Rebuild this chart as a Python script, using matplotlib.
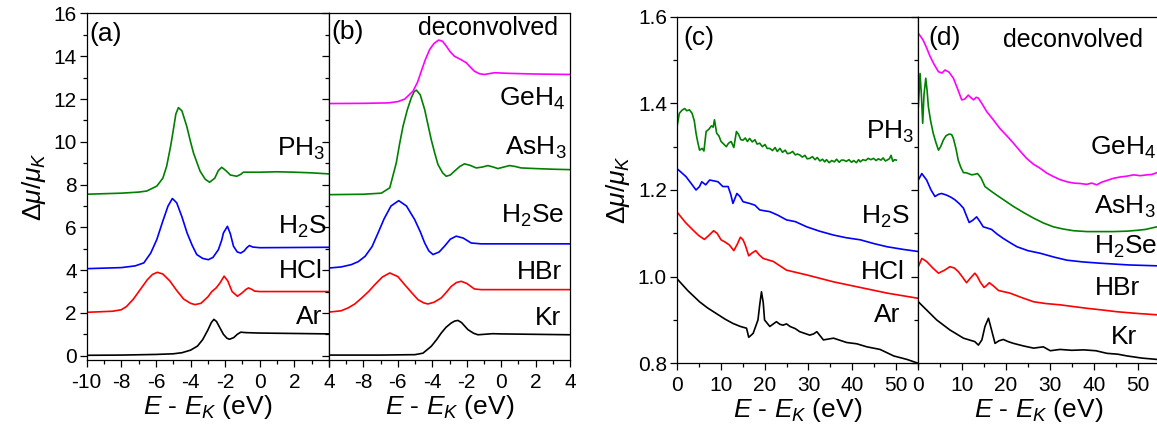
import matplotlib
matplotlib.use("Agg")
import matplotlib.pyplot as plt
from matplotlib.ticker import MultipleLocator, FormatStrFormatter, FuncFormatter

plt.rcParams["font.family"] = ["Liberation Sans", "DejaVu Sans"]
plt.rcParams["mathtext.fontset"] = "custom"
plt.rcParams["mathtext.rm"] = "Liberation Sans"
plt.rcParams["mathtext.it"] = "Liberation Sans:italic"
plt.rcParams["mathtext.bf"] = "Liberation Sans:bold"
plt.rcParams["axes.unicode_minus"] = False

# ---------------- panel (a): pre-edge region, measured ----------------
ar_a_x = [-10, -8, -6, -5, -4.5, -4, -3.6, -3.3, -3.0, -2.8, -2.65, -2.5, -2.3, -2.1,
          -1.9, -1.75, -1.5, -1.3, -1.1, -0.8, 0, 2, 4]
ar_a_y = [0.02, 0.03, 0.06, 0.09, 0.14, 0.26, 0.45, 0.75, 1.2, 1.55, 1.7, 1.6, 1.3, 1.0,
          0.82, 0.77, 0.85, 1.0, 1.1, 1.08, 1.06, 1.04, 1.02]

hcl_a_x = [-10, -8.5, -8, -7.7, -7.3, -6.9, -6.5, -6.2, -5.92, -5.6, -5.2, -4.8, -4.4, -4.0,
           -3.74, -3.4, -3.0, -2.77, -2.52, -2.3, -2.06, -1.85, -1.6, -1.29, -1.0, -0.8,
           -0.65, -0.45, -0.3, 0, 2, 4]
hcl_a_y = [2.03, 2.08, 2.15, 2.3, 2.65, 3.1, 3.55, 3.8, 3.9, 3.82, 3.5, 3.05, 2.65, 2.45,
           2.39, 2.45, 2.75, 3.0, 3.17, 3.4, 3.72, 3.5, 3.0, 2.78, 2.95, 3.1,
           3.17, 3.1, 3.02, 3.0, 3.0, 3.0]

h2s_a_x = [-10, -8, -7.2, -6.7, -6.3, -5.95, -5.6, -5.3, -5.05, -4.8, -4.5, -4.2, -3.9,
           -3.64, -3.3, -2.97, -2.7, -2.39, -2.2, -2.1, -1.87, -1.7, -1.52, -1.3, -1.1,
           -0.9, -0.75, -0.6, -0.4, 0, 2, 4]
h2s_a_y = [4.07, 4.12, 4.2, 4.34, 4.8, 5.43, 6.3, 7.0, 7.35, 7.15, 6.5, 5.74, 5.15,
           4.73, 4.55, 4.49, 4.6, 4.96, 5.4, 5.74, 6.05, 5.7, 5.12, 4.85, 4.8,
           4.9, 5.05, 5.15, 5.08, 5.05, 5.06, 5.07]

ph3_a_x = [-10, -8, -7, -6.53, -5.95, -5.6, -5.38, -5.15, -4.99, -4.85, -4.7, -4.5, -4.22,
           -4.0, -3.83, -3.45, -3.15, -2.9, -2.6, -2.4, -2.2, -1.95, -1.7, -1.33, -1.1,
           -0.95, 0, 1, 2, 3, 4]
ph3_a_y = [7.55, 7.6, 7.65, 7.7, 7.93, 8.3, 8.86, 9.8, 10.58, 11.3, 11.6, 11.45, 10.73,
           10.0, 9.48, 8.63, 8.25, 8.11, 8.3, 8.65, 8.81, 8.65, 8.45, 8.39, 8.48,
           8.58, 8.58, 8.6, 8.58, 8.55, 8.5]

# ---------------- panel (b): pre-edge region, deconvolved ----------------
kr_b_x = [-10, -7, -5, -4.54, -4.06, -3.75, -3.48, -3.2, -2.9, -2.7, -2.51, -2.3, -1.93,
          -1.6, -1.35, -1.0, -0.5, 0, 2, 4]
kr_b_y = [0.03, 0.03, 0.05, 0.12, 0.44, 0.75, 1.06, 1.33, 1.53, 1.62, 1.65, 1.55, 1.22,
          1.05, 0.98, 1.0, 1.03, 1.02, 1.0, 0.98]

hbr_b_x = [-10, -9.3, -8.9, -8.5, -8.1, -7.7, -7.34, -6.9, -6.47, -6.0, -5.6, -5.2, -4.83,
           -4.5, -4.25, -3.9, -3.48, -3.2, -2.9, -2.6, -2.32, -2.0, -1.55, -1.16, 0, 2, 4]
hbr_b_y = [2.04, 2.1, 2.23, 2.42, 2.7, 3.0, 3.32, 3.68, 3.87, 3.7, 3.32, 2.95, 2.62,
           2.47, 2.42, 2.5, 2.7, 2.95, 3.24, 3.42, 3.48, 3.38, 3.12, 3.09, 3.09, 3.09, 3.09]

h2se_b_x = [-10, -9.3, -8.7, -8.3, -7.9, -7.5, -7.15, -6.8, -6.4, -5.95, -5.5, -5.02,
            -4.7, -4.44, -4.2, -3.96, -3.6, -3.29, -2.95, -2.61, -2.2, -1.74, -1.16, 0, 2, 4]
h2se_b_y = [4.1, 4.15, 4.26, 4.4, 4.65, 5.1, 5.74, 6.4, 7.0, 7.25, 7.0, 6.36,
            5.8, 5.27, 4.9, 4.73, 4.85, 5.12, 5.45, 5.59, 5.5, 5.27, 5.23, 5.23, 5.23, 5.23]

ash3_b_x = [-10, -8, -6.96, -6.47, -6.09, -5.9, -5.7, -5.45, -5.22, -5.05, -4.93, -4.7,
            -4.44, -4.25, -4.06, -3.85, -3.67, -3.4, -3.19, -2.95, -2.71, -2.4, -2.13,
            -1.8, -1.45, -1.1, -0.77, -0.45, -0.19, 0.15, 0.48, 0.8, 1.16, 2, 3, 4]
ash3_b_y = [7.53, 7.55, 7.6, 7.85, 9.02, 9.9, 10.73, 11.5, 12.06, 12.35, 12.42, 12.2,
            11.5, 10.8, 10.1, 9.45, 8.94, 8.55, 8.39, 8.45, 8.63, 8.85, 8.97,
            8.9, 8.78, 8.82, 8.89, 8.82, 8.75, 8.82, 8.89, 8.85, 8.78, 8.75, 8.72, 8.7]

geh4_b_x = [-10, -8, -6.57, -6.0, -5.6, -5.12, -4.85, -4.64, -4.4, -4.15, -3.9, -3.63,
            -3.4, -3.19, -2.95, -2.71, -2.35, -2.03, -1.8, -1.55, -1.25, -0.97, -0.39,
            0.5, 2, 4]
geh4_b_y = [11.79, 11.8, 11.82, 11.88, 12.0, 12.37, 12.8, 13.3, 13.85, 14.32, 14.6, 14.76,
            14.7, 14.48, 14.2, 14.0, 13.85, 13.7, 13.5, 13.3, 13.18, 13.15, 13.23,
            13.2, 13.17, 13.15]

# ---------------- panel (c): extended region, measured ----------------
ar_c_x = [0, 2.5, 5.2, 7, 9, 11, 12.8, 14.5, 15.9, 16.4, 17.4, 18.5, 18.9, 19.3, 19.7,
          20, 21.2, 22.7, 23.5, 24.2, 25, 25.8, 27, 28, 30.3, 31.2, 31.9, 33.4, 35.7,
          38.7, 41, 43.3, 46.3, 49.4, 52.4, 55]
ar_c_y = [0.996, 0.968, 0.942, 0.928, 0.915, 0.902, 0.892, 0.885, 0.881, 0.86, 0.869, 0.9,
          0.935, 0.965, 0.94, 0.9, 0.885, 0.896, 0.89, 0.888, 0.891, 0.885, 0.88, 0.873,
          0.865, 0.868, 0.873, 0.854, 0.858, 0.848, 0.845, 0.838, 0.832, 0.817, 0.809, 0.8]

hcl_c_x = [0, 2, 3.66, 5, 6.3, 7.3, 8.4, 9.2, 10.1, 11, 12, 13, 13.8, 14.5, 15.1, 15.6,
           16.4, 17.2, 18, 18.8, 19.7, 22, 25, 29.6, 35.7, 41.8, 47.9, 55]
hcl_c_y = [1.15, 1.125, 1.108, 1.095, 1.086, 1.095, 1.106, 1.1, 1.085, 1.08, 1.073, 1.06,
           1.075, 1.091, 1.085, 1.073, 1.048, 1.055, 1.06, 1.05, 1.042, 1.035, 1.015,
           1.004, 0.988, 0.975, 0.962, 0.95]

h2s_c_x = [0, 2.1, 3.3, 4.4, 5.2, 5.7, 6.6, 7.5, 8.5, 9.4, 10.5, 11.7, 12.3, 12.8, 13.7,
           14.4, 15.1, 16.6, 17.8, 18.9, 20, 21.2, 23, 25, 27, 29.6, 32.5, 35.7, 38.5,
           41.8, 45, 47.9, 51.5, 55]
h2s_c_y = [1.25, 1.231, 1.215, 1.2, 1.208, 1.219, 1.212, 1.223, 1.221, 1.219, 1.208,
           1.208, 1.19, 1.169, 1.192, 1.185, 1.173, 1.169, 1.165, 1.154, 1.152, 1.15,
           1.142, 1.131, 1.127, 1.115, 1.105, 1.096, 1.09, 1.085, 1.076, 1.069, 1.063,
           1.058]

ph3_c_x = [0, 0.6, 1.2, 1.8, 2.3, 2.9, 3.5, 4.0, 4.4, 4.8, 5.2, 5.8, 6.2, 6.7, 7.3, 7.9,
           8.3, 8.6, 9.1, 9.6, 10.1, 10.7, 11.3, 11.8, 12.4, 13.0, 13.6, 14.1, 14.6,
           15.1, 15.6, 16.1, 16.6, 17.2, 17.8, 18.3, 18.9, 19.5, 20.1, 20.6, 21.2, 21.8,
           22.4, 22.9, 23.5, 24.1, 24.7, 25.2, 25.8, 26.4, 27.0, 27.5, 28.0, 28.6, 29.2,
           29.7, 30.3, 30.9, 31.5, 32.0, 32.6, 33.2, 33.7, 34.1, 34.7, 35.3, 35.9, 36.4,
           37.0, 37.5, 38.0, 38.6, 39.2, 39.8, 40.3, 40.9, 41.4, 41.8, 42.4, 43.0, 43.6,
           44.2, 44.8, 45.4, 45.9, 46.5, 47.0, 47.5, 47.9, 48.4, 48.8, 49.2, 49.6, 50.0]
ph3_c_y = [1.342, 1.377, 1.384, 1.388, 1.383, 1.385, 1.377, 1.36, 1.331, 1.31, 1.292, 1.296,
           1.29, 1.335, 1.34, 1.348, 1.345, 1.362, 1.331, 1.325, 1.312, 1.306, 1.3, 1.308,
           1.312, 1.298, 1.335, 1.328, 1.316, 1.315, 1.32, 1.312, 1.319, 1.311, 1.316,
           1.306, 1.308, 1.3, 1.305, 1.296, 1.296, 1.291, 1.298, 1.289, 1.296, 1.287,
           1.292, 1.284, 1.285, 1.289, 1.281, 1.283, 1.281, 1.276, 1.28, 1.272, 1.273,
           1.277, 1.27, 1.275, 1.267, 1.271, 1.265, 1.27, 1.263, 1.268, 1.265, 1.271,
           1.264, 1.269, 1.269, 1.266, 1.27, 1.264, 1.268, 1.263, 1.27, 1.265, 1.27, 1.268,
           1.273, 1.27, 1.273, 1.268, 1.272, 1.269, 1.274, 1.267, 1.269, 1.272, 1.28,
           1.266, 1.27, 1.269]

# ---------------- panel (d): extended region, deconvolved ----------------
kr_d_x = [0, 1.9, 4.2, 7.2, 10.3, 12.9, 13.7, 14.5, 15.2, 16.0, 16.7, 17.5, 18.4, 19.4,
          20.5, 21.7, 24, 26.3, 28.5, 30.1, 32.3, 35, 37.7, 40.5, 43, 45.5, 47.6, 51, 54.4]
kr_d_y = [0.942, 0.923, 0.9, 0.877, 0.858, 0.85, 0.842, 0.854, 0.885, 0.904, 0.877,
          0.846, 0.852, 0.855, 0.85, 0.846, 0.84, 0.835, 0.838, 0.829, 0.832, 0.83, 0.831,
          0.829, 0.823, 0.821, 0.817, 0.812, 0.809]

hbr_d_x = [0, 0.8, 1.9, 3.3, 4.6, 6.0, 7.2, 8.2, 9.1, 10.0, 11.0, 12.0, 12.9, 13.5, 14.1,
           15.0, 15.6, 16.2, 17.2, 18.3, 20.9, 23.5, 26.3, 29, 32.3, 35.3, 38.4, 42,
           45.3, 50, 54.4]
hbr_d_y = [1.023, 1.042, 1.035, 1.02, 1.008, 1.015, 1.023, 1.02, 1.012, 1.0, 0.986, 0.998,
           1.008, 1.0, 0.988, 0.975, 0.98, 0.986, 0.978, 0.968, 0.962, 0.952, 0.942, 0.938,
           0.935, 0.931, 0.927, 0.923, 0.919, 0.915, 0.912]

h2se_d_x = [0, 0.8, 1.9, 2.9, 3.8, 4.6, 5.3, 6.5, 7.5, 8.4, 9.4, 10.3, 11.0, 11.6, 12.4,
            13.3, 14.0, 14.8, 15.8, 16.7, 18.0, 19.4, 21.0, 22.5, 25, 27.8, 31, 33.9,
            37.5, 41.5, 48, 54.4]
h2se_d_y = [1.223, 1.238, 1.223, 1.2, 1.185, 1.19, 1.192, 1.188, 1.183, 1.177, 1.168,
            1.158, 1.14, 1.125, 1.13, 1.138, 1.128, 1.115, 1.112, 1.109, 1.098, 1.088,
            1.078, 1.069, 1.06, 1.054, 1.045, 1.038, 1.034, 1.031, 1.027, 1.025]

ash3_d_x = [0, 0.4, 0.7, 1.0, 1.3, 1.7, 2.0, 2.3, 2.8, 3.4, 4.0, 4.6, 5.1, 5.7, 6.3, 7.0,
            7.6, 8.0, 8.6, 9.1, 9.7, 10.3, 10.8, 11.4, 12.2, 12.8, 13.5, 14.3, 15.2,
            16.5, 17.9, 19.8, 21.7, 24, 26.3, 28.5, 30.8, 33, 35.4, 38.5, 41.5, 44.5,
            47.6, 50, 51.8, 54.4]
ash3_d_y = [1.392, 1.469, 1.42, 1.354, 1.42, 1.458, 1.43, 1.392, 1.36, 1.331, 1.31, 1.292,
            1.3, 1.315, 1.325, 1.329, 1.328, 1.319, 1.295, 1.269, 1.252, 1.24, 1.24, 1.238,
            1.235, 1.236, 1.238, 1.228, 1.208, 1.198, 1.188, 1.175, 1.162, 1.148, 1.135,
            1.124, 1.115, 1.11, 1.106, 1.104, 1.104, 1.104, 1.105, 1.107, 1.109, 1.115]

geh4_d_x = [0, 1.1, 1.9, 2.7, 3.6, 4.6, 5.4, 6.1, 7.0, 8.0, 8.9, 9.9, 10.6, 11.4, 12.0,
            12.6, 13.2, 13.7, 14.6, 15.6, 17.1, 18.6, 20.1, 21.7, 23.2, 24.7, 26.2, 27.8,
            29.3, 30.8, 32.3, 33.9, 35.4, 36.9, 38.4, 39.5, 40.7, 41.8, 43.0, 44.5, 46.0,
            47.6, 49.1, 50.6, 52.1, 53.3, 54.4]
geh4_d_y = [1.562, 1.546, 1.528, 1.508, 1.49, 1.473, 1.47, 1.477, 1.472, 1.458, 1.435,
            1.408, 1.41, 1.419, 1.413, 1.408, 1.414, 1.412, 1.398, 1.381, 1.362, 1.342,
            1.326, 1.308, 1.29, 1.273, 1.26, 1.25, 1.239, 1.231, 1.224, 1.219, 1.216, 1.215,
            1.213, 1.216, 1.212, 1.218, 1.222, 1.227, 1.23, 1.232, 1.235, 1.233, 1.235,
            1.236, 1.24]

BLACK, RED, BLUE, GREEN, MAGENTA = "black", "#ff0000", "#0000ff", "#008000", "#ff00ff"

W, H = 1157, 438
fig = plt.figure(figsize=(W / 100, H / 100), dpi=100)


def frac(left, top, right, bottom):
    return [left / W, 1 - bottom / H, (right - left) / W, (bottom - top) / H]


ax_a = fig.add_axes(frac(86.7, 13.5, 329, 360))
ax_b = fig.add_axes(frac(329, 13.5, 570, 360))
ax_c = fig.add_axes(frac(676.7, 16.7, 918.3, 363.3))
ax_d = fig.add_axes(frac(918.3, 16.7, 1159.5, 363.3))

LW = 1.2
TICK_FS = 15
LABEL_FS = 19
NAME_FS = 19
PANEL_FS = 19
DECONV_FS = 18


def style(ax, major_x, minor_x, major_y, minor_y, ylabels=True):
    for s in ax.spines.values():
        s.set_linewidth(0.9)
    ax.xaxis.set_major_locator(MultipleLocator(major_x))
    ax.xaxis.set_minor_locator(MultipleLocator(minor_x))
    ax.yaxis.set_major_locator(MultipleLocator(major_y))
    ax.yaxis.set_minor_locator(MultipleLocator(minor_y))
    ax.tick_params(which="both", direction="out", top=False, right=False,
                   labelsize=TICK_FS, width=0.9)
    ax.tick_params(axis="x", pad=4)
    ax.tick_params(axis="y", pad=2)
    ax.tick_params(which="major", length=5)
    ax.tick_params(which="minor", length=3)
    if not ylabels:
        ax.tick_params(labelleft=False)
    ax.set_xlabel(r"$E$ - $E_K$ (eV)", fontsize=LABEL_FS, labelpad=1)


# panel (a)
ax_a.plot(ar_a_x, ar_a_y, color=BLACK, lw=LW)
ax_a.plot(hcl_a_x, hcl_a_y, color=RED, lw=LW)
ax_a.plot(h2s_a_x, h2s_a_y, color=BLUE, lw=LW)
ax_a.plot(ph3_a_x, ph3_a_y, color=GREEN, lw=LW)
ax_a.set_xlim(-10, 4)
ax_a.set_ylim(-0.2, 16)
style(ax_a, 2, 1, 2, 1)
ax_a.set_ylabel(r"$\Delta\mu/\mu_K$", fontsize=LABEL_FS, labelpad=4)
ax_a.text(-9.85, 15.05, "(a)", fontsize=PANEL_FS, ha="left", va="center")
ax_a.text(3.8, 9.68, r"PH$_3$", fontsize=NAME_FS, ha="right", va="center")
ax_a.text(3.85, 6.0, r"H$_2$S", fontsize=NAME_FS, ha="right", va="center")
ax_a.text(3.65, 3.94, "HCl", fontsize=NAME_FS, ha="right", va="center")
ax_a.text(3.6, 1.81, "Ar", fontsize=NAME_FS, ha="right", va="center")

# panel (b)
ax_b.plot(kr_b_x, kr_b_y, color=BLACK, lw=LW)
ax_b.plot(hbr_b_x, hbr_b_y, color=RED, lw=LW)
ax_b.plot(h2se_b_x, h2se_b_y, color=BLUE, lw=LW)
ax_b.plot(ash3_b_x, ash3_b_y, color=GREEN, lw=LW)
ax_b.plot(geh4_b_x, geh4_b_y, color=MAGENTA, lw=LW)
ax_b.set_xlim(-10, 4)
ax_b.set_ylim(-0.2, 16)
style(ax_b, 2, 1, 2, 1, ylabels=False)
# the shared boundary value is already labelled by panel (a)
ax_b.xaxis.set_major_formatter(
    FuncFormatter(lambda v, pos: "" if abs(v + 10) < 1e-9 else f"{v:g}"))
ax_b.text(-9.85, 15.15, "(b)", fontsize=PANEL_FS, ha="left", va="center")
ax_b.text(3.3, 15.3, "deconvolved", fontsize=DECONV_FS, ha="right", va="center")
ax_b.text(3.75, 12.0, r"GeH$_4$", fontsize=NAME_FS, ha="right", va="center")
ax_b.text(3.8, 9.73, r"AsH$_3$", fontsize=NAME_FS, ha="right", va="center")
ax_b.text(3.65, 6.56, r"H$_2$Se", fontsize=NAME_FS, ha="right", va="center")
ax_b.text(3.55, 3.91, "HBr", fontsize=NAME_FS, ha="right", va="center")
ax_b.text(3.5, 1.75, "Kr", fontsize=NAME_FS, ha="right", va="center")

# panel (c)
ax_c.plot(ar_c_x, ar_c_y, color=BLACK, lw=LW)
ax_c.plot(hcl_c_x, hcl_c_y, color=RED, lw=LW)
ax_c.plot(h2s_c_x, h2s_c_y, color=BLUE, lw=LW)
ax_c.plot(ph3_c_x, ph3_c_y, color=GREEN, lw=LW)
ax_c.set_xlim(0, 55)
ax_c.set_ylim(0.8, 1.6)
style(ax_c, 10, 5, 0.2, 0.1)
ax_c.yaxis.set_major_formatter(FormatStrFormatter("%.1f"))
ax_c.set_ylabel(r"$\Delta\mu/\mu_K$", fontsize=LABEL_FS, labelpad=4)
ax_c.text(1.6, 1.551, "(c)", fontsize=PANEL_FS, ha="left", va="center")
ax_c.text(54.0, 1.334, r"PH$_3$", fontsize=NAME_FS, ha="right", va="center")
ax_c.text(53.0, 1.138, r"H$_2$S", fontsize=NAME_FS, ha="right", va="center")
ax_c.text(52.0, 1.011, "HCl", fontsize=NAME_FS, ha="right", va="center")
ax_c.text(51.0, 0.911, "Ar", fontsize=NAME_FS, ha="right", va="center")

# panel (d)
ax_d.plot(kr_d_x, kr_d_y, color=BLACK, lw=LW)
ax_d.plot(hbr_d_x, hbr_d_y, color=RED, lw=LW)
ax_d.plot(h2se_d_x, h2se_d_y, color=BLUE, lw=LW)
ax_d.plot(ash3_d_x, ash3_d_y, color=GREEN, lw=LW)
ax_d.plot(geh4_d_x, geh4_d_y, color=MAGENTA, lw=LW)
ax_d.set_xlim(0, 55)
ax_d.set_ylim(0.8, 1.6)
style(ax_d, 10, 5, 0.2, 0.1, ylabels=False)
ax_d.text(2.3, 1.551, "(d)", fontsize=PANEL_FS, ha="left", va="center")
ax_d.text(51.3, 1.546, "deconvolved", fontsize=DECONV_FS, ha="right", va="center")
ax_d.text(54.2, 1.297, r"GeH$_4$", fontsize=NAME_FS, ha="right", va="center")
ax_d.text(54.2, 1.161, r"AsH$_3$", fontsize=NAME_FS, ha="right", va="center")
ax_d.text(54.6, 1.068, r"H$_2$Se", fontsize=NAME_FS, ha="right", va="center")
ax_d.text(50.6, 0.973, "HBr", fontsize=NAME_FS, ha="right", va="center")
ax_d.text(50.0, 0.861, "Kr", fontsize=NAME_FS, ha="right", va="center")

fig.savefig("out.png", dpi=100)
